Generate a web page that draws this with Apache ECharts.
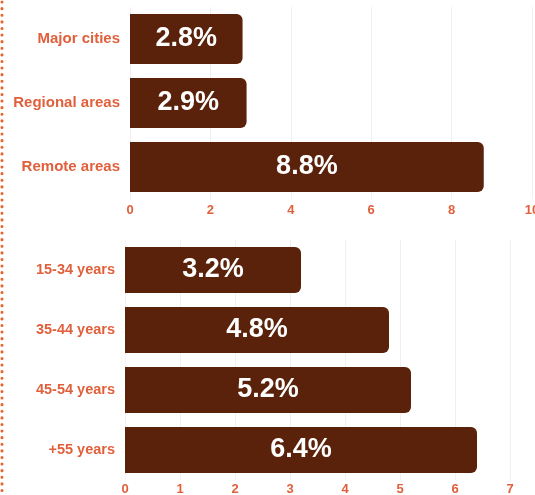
<!DOCTYPE html>
<html><head><meta charset="utf-8">
<script src="https://cdn.jsdelivr.net/npm/echarts@6/dist/echarts.min.js"></script>
<style>html,body{margin:0;padding:0;background:#fff}#c{width:535px;height:495px}</style>
</head><body><div id="c"></div>
<script>
const areaCategories = ["Major cities", "Regional areas", "Remote areas"];
const areaValues = [2.8, 2.9, 8.8];
const areaTicks = [0, 2, 4, 6, 8, 10];
const ageCategories = ["15-34 years", "35-44 years", "45-54 years", "+55 years"];
const ageValues = [3.2, 4.8, 5.2, 6.4];
const ageTicks = [0, 1, 2, 3, 4, 5, 6, 7];

const barColor = "#5a220a";
const labelColor = "#e0603c";
const chart = echarts.init(document.getElementById('c'));
function labelStyle(fs) {
  return {color: labelColor, fontWeight: 'bold', fontSize: fs, fontFamily: 'Liberation Sans, Arial, sans-serif'};
}
function xAxis(gi, ticks, margin) {
  return {type: 'value', gridIndex: gi, min: ticks[0], max: ticks[ticks.length-1], interval: ticks[1]-ticks[0],
    axisLine: {show: false}, axisTick: {show: false},
    splitLine: {show: true, lineStyle: {color: '#f3efed', width: 1}},
    axisLabel: Object.assign({margin: margin, showMaxLabel: true}, labelStyle(13))};
}
function yAxis(gi, cats, fs) {
  return {type: 'category', gridIndex: gi, data: cats, inverse: true,
    axisLine: {show: false}, axisTick: {show: false},
    axisLabel: Object.assign({margin: 10}, labelStyle(fs))};
}
function series(gi, vals, bw, fs) {
  return {type: 'bar', xAxisIndex: gi, yAxisIndex: gi, data: vals, barWidth: bw,
    itemStyle: {color: barColor, borderRadius: [0, 6, 6, 0]},
    label: {show: true, position: 'inside', formatter: p => p.value.toFixed(1) + '%',
      color: '#fff', fontSize: fs, fontWeight: 'bold', fontFamily: 'Liberation Sans, Arial, sans-serif'}};
}
chart.setOption({
  animation: false,
  grid: [
    {left: 130, top: 7, width: 402, height: 192, outerBoundsMode: 'none', containLabel: false},
    {left: 125, top: 240, width: 385, height: 240, outerBoundsMode: 'none', containLabel: false}
  ],
  xAxis: [xAxis(0, areaTicks, 5), xAxis(1, ageTicks, 3)],
  yAxis: [yAxis(0, areaCategories, 15), yAxis(1, ageCategories, 14.5)],
  series: [series(0, areaValues, 50, 27), series(1, ageValues, 46, 27)],
  graphic: [{type: 'line', shape: {x1: 2, y1: 2, x2: 2, y2: 495},
    style: {stroke: '#e8632b', lineWidth: 3, lineDash: [0.1, 6.5], lineCap: 'round'}}]
});
</script></body></html>
